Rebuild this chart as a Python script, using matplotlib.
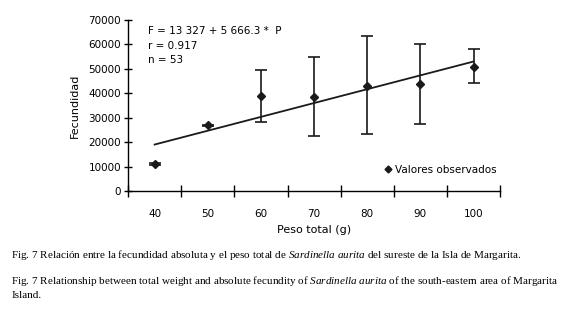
import matplotlib.pyplot as plt
import matplotlib.lines as mlines
import numpy as np

plt.rcParams['mathtext.fontset'] = 'custom'
plt.rcParams['mathtext.rm'] = 'Liberation Serif'
plt.rcParams['mathtext.it'] = 'Liberation Serif:italic'

# datos
pesos = ['40', '50', '60', '70', '80', '90', '100']
fecundidad = [10900, 26800, 38800, 38400, 42900, 43800, 50900]
err_sup = [400, 400, 10900, 16300, 20400, 16500, 7100]
err_inf = [400, 400, 10600, 15900, 19600, 16400, 6800]
a_reg = 13327
b_reg = 5666.3

fig = plt.figure(figsize=(5.69, 3.22), dpi=100)
ax = fig.add_axes([0.225, 0.407, 0.654, 0.531])

x = np.arange(1, len(pesos) + 1)
ax.errorbar(x, fecundidad, yerr=[err_inf, err_sup], fmt='D', color='#1a1a1a',
            markersize=4, ecolor='#1a1a1a', elinewidth=1.2, capsize=4, capthick=1.2,
            zorder=3)
ax.plot([x[0], x[-1]], [a_reg + b_reg * x[0], a_reg + b_reg * x[-1]],
        color='#1a1a1a', lw=1.3, zorder=2)

ax.set_xlim(0.5, len(pesos) + 0.5)
ax.set_ylim(0, 70000)
ax.set_yticks(range(0, 70001, 10000))
ax.set_xticks(np.arange(0.5, len(pesos) + 1, 1))
ax.set_xticklabels([])
ax.set_xticks(x, minor=True)
ax.set_xticklabels(pesos, minor=True, fontsize=7.5)
ax.tick_params(axis='x', which='major', direction='inout', length=8, width=1)
ax.tick_params(axis='x', which='minor', length=0, pad=13)
ax.tick_params(axis='y', direction='inout', length=6, width=1, labelsize=7.5, pad=2)
for s in ['top', 'right']:
    ax.spines[s].set_visible(False)
for s in ['left', 'bottom']:
    ax.spines[s].set_linewidth(1)

ax.set_ylabel('Fecundidad', fontsize=8, labelpad=6)
ax.set_xlabel('Peso total (g)', fontsize=8, labelpad=4)

ax.text(0.055, 0.935, 'F = 13 327 + 5 666.3 *  P', transform=ax.transAxes, fontsize=7.5, va='center')
ax.text(0.055, 0.85, 'r = 0.917', transform=ax.transAxes, fontsize=7.5, va='center')
ax.text(0.055, 0.765, 'n = 53', transform=ax.transAxes, fontsize=7.5, va='center')

obs = mlines.Line2D([], [], color='#1a1a1a', marker='D', markersize=3.5, linestyle='None',
                    label='Valores observados')
ax.legend(handles=[obs], loc='lower right', bbox_to_anchor=(1.015, 0.04), frameon=False,
          fontsize=7.5, handlelength=0.6, handletextpad=0.3)

serif = 'Liberation Serif'
fig.text(0.02, 1 - 255 / 322, 'Fig. 7 Relación entre la fecundidad absoluta y el peso total de $\\it{Sardinella\\ aurita}$ del sureste de la Isla de Margarita.',
         family=serif, fontsize=8, va='center')
fig.text(0.02, 1 - 281.5 / 322, 'Fig. 7 Relationship between total weight and absolute fecundity of $\\it{Sardinella\\ aurita}$ of the south-eastern area of Margarita',
         family=serif, fontsize=8, va='center')
fig.text(0.02, 1 - 295 / 322, 'Island.', family=serif, fontsize=8, va='center')

fig.savefig('out.png', dpi=100)
